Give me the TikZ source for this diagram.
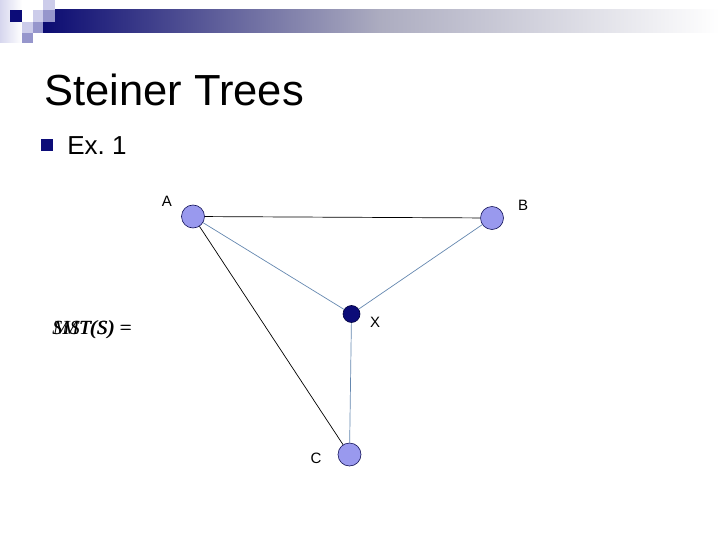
\documentclass[tikz,border=0pt]{standalone}
\usepackage{fontspec}
\setmainfont{Liberation Sans}
\newfontfamily\timesfam{Liberation Serif}
\usepackage{tikz}
\tikzset{every picture/.style={line width=0.75pt}}
\definecolor{navyblue}{RGB}{12,12,120}
\definecolor{palelav}{RGB}{204,204,234}
\definecolor{midlav}{RGB}{150,150,204}
\definecolor{nodelav}{RGB}{153,153,238}
\definecolor{steeledge}{RGB}{100,135,175}
\definecolor{bargrey}{RGB}{172,172,192}
\tikzset{
  terminal/.style={circle, draw={rgb, 255:red, 20; green, 20; blue, 90}, line width=0.6pt, fill=nodelav, minimum size=23pt, inner sep=0pt},
  steinerpt/.style={circle, draw={rgb, 255:red, 0; green, 0; blue, 60}, line width=0.6pt, fill=navyblue, minimum size=17pt, inner sep=0pt},
  vlabel/.style={font=\fontsize{15}{18}\selectfont, inner sep=0pt},
  treeedge/.style={color=steeledge, line width=0.7pt},
  plainedge/.style={color=black, line width=0.7pt}
}

\begin{document}
\begin{tikzpicture}[x=1pt,y=1pt,yscale=-1,xscale=1]
\useasboundingbox (0,0) rectangle (720,540);

%Header: pale corner
\shade [left color=palelav!80, right color=white] (0,0) rectangle (22,43) ;
%Header: gradient bar
\shade [left color=navyblue!95!black, right color=bargrey] (43,10) rectangle (380,33) ;
\shade [left color=bargrey, right color=white] (379.5,10) rectangle (720,33) ;
%Header: small squares
\fill [navyblue] (10,10) rectangle (22,22) ;
\fill [palelav] (43,0) rectangle (55,10) ;
\fill [palelav] (33,10) rectangle (43,22) ;
\fill [midlav] (43,10) rectangle (55,22) ;
\fill [palelav] (22,22) rectangle (33,33) ;
\fill [midlav] (33,22) rectangle (43,33) ;
\fill [midlav] (22,33) rectangle (33,43) ;

%Title
\node [anchor=base west, inner sep=0pt, font=\fontsize{43.5}{50}\selectfont] (title) at (44,106) {Steiner Trees};
%Bullet
\fill [navyblue] (41,139) rectangle (53,151) ;
\node [anchor=base west, inner sep=0pt, font=\fontsize{26}{30}\selectfont] (example) at (67,155) {Ex.~1};

%Overlaid cost text
\node [anchor=base west, inner sep=0pt, font=\timesfam\itshape\fontsize{20}{24}\selectfont] (smt) at (52,334) {SMT(S) =};
\node [anchor=base west, inner sep=0pt, font=\timesfam\itshape\fontsize{20}{24}\selectfont] (mst) at (52.8,334) {MST(S) =};

%Shape: Circles
\node [terminal] (A) at (193,216.5) {};
\node [terminal] (B) at (492,218) {};
\node [steinerpt] (X) at (351.5,314) {};
\node [terminal] (C) at (349.5,454.5) {};

%Straight Lines
\draw [plainedge] (A) -- (B) ;
\draw [plainedge] (A) -- (C) ;
\draw [treeedge] (A) -- (X) ;
\draw [treeedge] (B) -- (X) ;
\draw [treeedge] (X) -- (C) ;

%Labels
\node [vlabel] (labA) at (167,201.5) {A};
\node [vlabel] (labB) at (523,205) {B};
\node [vlabel] (labX) at (375,322.5) {X};
\node [vlabel] (labC) at (316,458.5) {C};

\end{tikzpicture}
\end{document}
